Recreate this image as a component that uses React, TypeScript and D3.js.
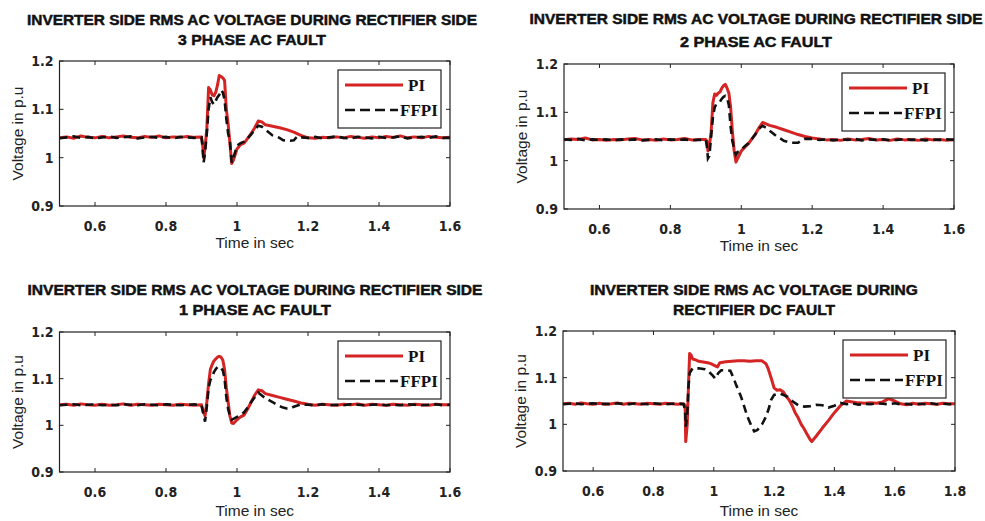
import React from 'react'
import * as d3 from 'd3'

const W = 985
const H = 521

const xTicksShort = [0.6, 0.8, 1, 1.2, 1.4, 1.6]
const xTicksLong = [0.6, 0.8, 1, 1.2, 1.4, 1.6, 1.8]
const yTicks = [0.9, 1, 1.1, 1.2]
const seriesNames = ['PI', 'FFPI']

type Pt = [number, number]

// 3 phase AC fault
const p1Pi: Pt[] = [[0.5,1.041],[0.52,1.043],[0.54,1.040],[0.56,1.045],[0.58,1.042],[0.6,1.041],[0.62,1.044],[0.64,1.041],[0.66,1.043],[0.68,1.045],[0.7,1.042],[0.72,1.041],[0.74,1.044],[0.76,1.042],[0.78,1.045],[0.8,1.041],[0.82,1.043],[0.84,1.042],[0.86,1.044],[0.88,1.042],[0.9,1.043],[0.903,1.03],[0.906,1.0],[0.91,1.02],[0.915,1.06],[0.92,1.145],[0.925,1.14],[0.93,1.13],[0.935,1.128],[0.94,1.135],[0.945,1.15],[0.95,1.17],[0.955,1.168],[0.96,1.165],[0.965,1.16],[0.97,1.10],[0.975,1.07],[0.98,1.03],[0.985,0.988],[0.99,0.995],[1.0,1.018],[1.01,1.027],[1.02,1.03],[1.03,1.04],[1.04,1.05],[1.05,1.062],[1.06,1.076],[1.07,1.074],[1.08,1.068],[1.1,1.065],[1.12,1.062],[1.14,1.058],[1.16,1.053],[1.18,1.046],[1.2,1.041],[1.22,1.040],[1.24,1.042],[1.26,1.041],[1.28,1.043],[1.3,1.041],[1.32,1.044],[1.34,1.042],[1.36,1.040],[1.38,1.043],[1.4,1.041],[1.42,1.044],[1.44,1.042],[1.46,1.045],[1.48,1.041],[1.5,1.043],[1.52,1.041],[1.54,1.044],[1.56,1.042],[1.58,1.041],[1.6,1.042]]
const p1Ff: Pt[] = [[0.5,1.040],[0.52,1.042],[0.54,1.044],[0.56,1.041],[0.58,1.043],[0.6,1.040],[0.62,1.042],[0.64,1.044],[0.66,1.041],[0.68,1.042],[0.7,1.044],[0.72,1.040],[0.74,1.042],[0.76,1.043],[0.78,1.041],[0.8,1.043],[0.82,1.040],[0.84,1.043],[0.86,1.042],[0.88,1.041],[0.9,1.042],[0.903,1.02],[0.906,0.99],[0.91,1.01],[0.915,1.05],[0.92,1.10],[0.925,1.125],[0.93,1.115],[0.935,1.11],[0.94,1.118],[0.945,1.125],[0.95,1.13],[0.955,1.14],[0.96,1.135],[0.965,1.12],[0.97,1.08],[0.975,1.05],[0.98,1.035],[0.985,0.99],[0.99,1.0],[1.0,1.025],[1.01,1.03],[1.02,1.033],[1.03,1.04],[1.04,1.048],[1.05,1.058],[1.06,1.066],[1.07,1.064],[1.08,1.058],[1.09,1.052],[1.1,1.046],[1.12,1.041],[1.13,1.036],[1.15,1.035],[1.16,1.036],[1.17,1.044],[1.18,1.042],[1.2,1.041],[1.22,1.043],[1.24,1.040],[1.26,1.042],[1.28,1.044],[1.3,1.041],[1.32,1.040],[1.34,1.043],[1.36,1.042],[1.38,1.040],[1.4,1.043],[1.42,1.041],[1.44,1.042],[1.46,1.044],[1.48,1.040],[1.5,1.042],[1.52,1.043],[1.54,1.041],[1.56,1.044],[1.58,1.041],[1.6,1.041]]

// 2 phase AC fault
const p2Pi: Pt[] = [[0.5,1.043],[0.52,1.045],[0.54,1.044],[0.56,1.047],[0.58,1.043],[0.6,1.044],[0.62,1.042],[0.64,1.044],[0.66,1.043],[0.68,1.045],[0.7,1.046],[0.72,1.043],[0.74,1.044],[0.76,1.042],[0.78,1.045],[0.8,1.043],[0.82,1.044],[0.84,1.046],[0.86,1.043],[0.88,1.044],[0.9,1.044],[0.903,1.04],[0.906,1.02],[0.91,1.03],[0.915,1.06],[0.92,1.12],[0.925,1.138],[0.93,1.135],[0.935,1.14],[0.94,1.142],[0.945,1.15],[0.95,1.155],[0.955,1.158],[0.96,1.15],[0.965,1.14],[0.97,1.11],[0.975,1.06],[0.98,1.02],[0.985,0.997],[0.99,1.005],[1.0,1.02],[1.01,1.028],[1.02,1.035],[1.03,1.045],[1.04,1.055],[1.05,1.068],[1.06,1.079],[1.07,1.076],[1.08,1.073],[1.1,1.069],[1.12,1.064],[1.14,1.059],[1.16,1.054],[1.18,1.05],[1.2,1.047],[1.22,1.045],[1.24,1.043],[1.26,1.044],[1.28,1.042],[1.3,1.045],[1.32,1.043],[1.34,1.044],[1.36,1.046],[1.38,1.043],[1.4,1.044],[1.42,1.042],[1.44,1.045],[1.46,1.043],[1.48,1.044],[1.5,1.042],[1.52,1.045],[1.54,1.043],[1.56,1.044],[1.58,1.042],[1.6,1.044]]
const p2Ff: Pt[] = [[0.5,1.044],[0.52,1.043],[0.54,1.045],[0.56,1.042],[0.58,1.044],[0.6,1.043],[0.62,1.044],[0.64,1.042],[0.66,1.044],[0.68,1.043],[0.7,1.044],[0.72,1.042],[0.74,1.043],[0.76,1.044],[0.78,1.042],[0.8,1.044],[0.82,1.043],[0.84,1.044],[0.86,1.042],[0.88,1.043],[0.9,1.043],[0.903,1.03],[0.906,1.005],[0.91,1.01],[0.915,1.05],[0.92,1.09],[0.925,1.11],[0.93,1.118],[0.935,1.12],[0.94,1.122],[0.945,1.128],[0.95,1.132],[0.955,1.134],[0.96,1.13],[0.965,1.115],[0.97,1.07],[0.975,1.04],[0.98,1.025],[0.985,1.012],[0.99,1.018],[1.0,1.022],[1.01,1.03],[1.02,1.036],[1.03,1.045],[1.04,1.055],[1.05,1.066],[1.06,1.072],[1.07,1.068],[1.08,1.062],[1.09,1.056],[1.1,1.05],[1.11,1.046],[1.12,1.041],[1.13,1.039],[1.14,1.037],[1.16,1.037],[1.17,1.042],[1.18,1.045],[1.2,1.045],[1.22,1.043],[1.24,1.044],[1.26,1.042],[1.28,1.044],[1.3,1.043],[1.32,1.045],[1.34,1.042],[1.36,1.044],[1.38,1.043],[1.4,1.044],[1.42,1.042],[1.44,1.043],[1.46,1.045],[1.48,1.043],[1.5,1.044],[1.52,1.042],[1.54,1.044],[1.56,1.043],[1.58,1.044],[1.6,1.043]]

// 1 phase AC fault
const p3Pi: Pt[] = [[0.5,1.044],[0.52,1.045],[0.54,1.043],[0.56,1.046],[0.58,1.044],[0.6,1.043],[0.62,1.045],[0.64,1.043],[0.66,1.044],[0.68,1.046],[0.7,1.043],[0.72,1.045],[0.74,1.044],[0.76,1.043],[0.78,1.045],[0.8,1.044],[0.82,1.043],[0.84,1.045],[0.86,1.044],[0.88,1.043],[0.9,1.044],[0.905,1.03],[0.91,1.02],[0.915,1.05],[0.92,1.09],[0.925,1.12],[0.93,1.13],[0.935,1.138],[0.94,1.142],[0.945,1.146],[0.95,1.148],[0.955,1.146],[0.96,1.14],[0.965,1.12],[0.97,1.08],[0.975,1.05],[0.98,1.02],[0.985,1.005],[0.99,1.004],[1.0,1.012],[1.01,1.018],[1.02,1.022],[1.03,1.035],[1.04,1.05],[1.05,1.065],[1.06,1.076],[1.07,1.074],[1.08,1.068],[1.1,1.064],[1.12,1.06],[1.14,1.056],[1.16,1.052],[1.18,1.048],[1.2,1.045],[1.22,1.043],[1.24,1.045],[1.26,1.044],[1.28,1.043],[1.3,1.045],[1.32,1.044],[1.34,1.046],[1.36,1.043],[1.38,1.045],[1.4,1.044],[1.42,1.043],[1.44,1.045],[1.46,1.044],[1.48,1.043],[1.5,1.045],[1.52,1.044],[1.54,1.043],[1.56,1.045],[1.58,1.044],[1.6,1.044]]
const p3Ff: Pt[] = [[0.5,1.043],[0.52,1.044],[0.54,1.045],[0.56,1.043],[0.58,1.044],[0.6,1.045],[0.62,1.043],[0.64,1.044],[0.66,1.043],[0.68,1.045],[0.7,1.044],[0.72,1.043],[0.74,1.045],[0.76,1.044],[0.78,1.043],[0.8,1.045],[0.82,1.044],[0.84,1.043],[0.86,1.044],[0.88,1.045],[0.9,1.043],[0.905,1.025],[0.91,1.008],[0.915,1.04],[0.92,1.08],[0.925,1.097],[0.93,1.105],[0.935,1.114],[0.94,1.12],[0.945,1.125],[0.95,1.126],[0.955,1.122],[0.96,1.118],[0.965,1.10],[0.97,1.06],[0.975,1.035],[0.98,1.02],[0.985,1.012],[0.99,1.014],[1.0,1.018],[1.01,1.022],[1.02,1.028],[1.03,1.038],[1.04,1.05],[1.05,1.06],[1.06,1.07],[1.07,1.064],[1.08,1.058],[1.09,1.054],[1.1,1.05],[1.11,1.045],[1.12,1.041],[1.13,1.038],[1.14,1.036],[1.15,1.036],[1.16,1.04],[1.18,1.045],[1.2,1.044],[1.22,1.043],[1.24,1.045],[1.26,1.043],[1.28,1.044],[1.3,1.043],[1.32,1.045],[1.34,1.044],[1.36,1.043],[1.38,1.044],[1.4,1.045],[1.42,1.043],[1.44,1.044],[1.46,1.043],[1.48,1.045],[1.5,1.044],[1.52,1.043],[1.54,1.044],[1.56,1.045],[1.58,1.043],[1.6,1.044]]

// rectifier DC fault
const p4Pi: Pt[] = [[0.5,1.044],[0.52,1.045],[0.54,1.043],[0.56,1.046],[0.58,1.044],[0.6,1.043],[0.62,1.045],[0.64,1.043],[0.66,1.044],[0.68,1.046],[0.7,1.043],[0.72,1.045],[0.74,1.044],[0.76,1.043],[0.78,1.045],[0.8,1.044],[0.82,1.043],[0.84,1.045],[0.86,1.044],[0.88,1.043],[0.9,1.044],[0.905,1.04],[0.907,0.963],[0.912,1.0],[0.916,1.08],[0.92,1.152],[0.925,1.148],[0.93,1.14],[0.94,1.138],[0.95,1.135],[0.96,1.134],[0.98,1.132],[0.99,1.13],[1.0,1.127],[1.012,1.123],[1.02,1.132],[1.04,1.134],[1.06,1.135],[1.08,1.136],[1.1,1.136],[1.12,1.135],[1.14,1.136],[1.16,1.136],[1.173,1.13],[1.18,1.12],[1.19,1.10],[1.2,1.078],[1.21,1.073],[1.22,1.074],[1.23,1.07],[1.24,1.06],[1.25,1.052],[1.26,1.04],[1.27,1.025],[1.28,1.014],[1.29,1.0],[1.3,0.99],[1.31,0.978],[1.32,0.967],[1.325,0.963],[1.34,0.975],[1.36,0.992],[1.38,1.008],[1.4,1.025],[1.42,1.04],[1.44,1.05],[1.46,1.048],[1.48,1.046],[1.5,1.045],[1.52,1.046],[1.54,1.045],[1.56,1.048],[1.58,1.055],[1.6,1.05],[1.62,1.044],[1.64,1.042],[1.66,1.045],[1.68,1.043],[1.7,1.045],[1.72,1.044],[1.74,1.043],[1.76,1.045],[1.78,1.044],[1.8,1.044]]
const p4Ff: Pt[] = [[0.5,1.043],[0.52,1.044],[0.54,1.045],[0.56,1.043],[0.58,1.044],[0.6,1.045],[0.62,1.043],[0.64,1.044],[0.66,1.043],[0.68,1.045],[0.7,1.044],[0.72,1.043],[0.74,1.045],[0.76,1.044],[0.78,1.043],[0.8,1.045],[0.82,1.044],[0.84,1.043],[0.86,1.044],[0.88,1.045],[0.9,1.043],[0.905,1.03],[0.907,0.995],[0.912,1.02],[0.916,1.08],[0.92,1.11],[0.93,1.12],[0.95,1.12],[0.97,1.118],[0.985,1.112],[0.996,1.105],[1.005,1.098],[1.015,1.11],[1.025,1.116],[1.04,1.116],[1.055,1.115],[1.065,1.1],[1.075,1.083],[1.09,1.06],[1.1,1.04],[1.112,1.016],[1.124,0.998],[1.134,0.985],[1.145,0.988],[1.16,1.0],[1.173,1.016],[1.183,1.035],[1.19,1.052],[1.2,1.063],[1.22,1.066],[1.245,1.059],[1.26,1.05],[1.28,1.041],[1.3,1.038],[1.32,1.039],[1.34,1.042],[1.36,1.041],[1.38,1.036],[1.4,1.04],[1.42,1.046],[1.44,1.043],[1.46,1.045],[1.48,1.042],[1.5,1.044],[1.52,1.043],[1.54,1.045],[1.56,1.044],[1.58,1.043],[1.6,1.045],[1.62,1.043],[1.64,1.044],[1.66,1.042],[1.68,1.044],[1.7,1.043],[1.72,1.045],[1.74,1.043],[1.76,1.044],[1.78,1.043],[1.8,1.044]]

const titles = [
  ['INVERTER SIDE RMS AC VOLTAGE DURING RECTIFIER SIDE', '3 PHASE AC FAULT'],
  ['INVERTER SIDE RMS AC VOLTAGE DURING RECTIFIER SIDE', '2 PHASE AC FAULT'],
  ['INVERTER SIDE RMS AC VOLTAGE DURING RECTIFIER SIDE', '1 PHASE AC FAULT'],
  ['INVERTER SIDE RMS AC VOLTAGE DURING', 'RECTIFIER DC FAULT'],
]

const panels = [
  { title: titles[0], xMax: 1.6, xTicks: xTicksShort, pi: p1Pi, ff: p1Ff, l: 59.5, r: 450, t: 61, b: 206, tx: 252, ty: [25, 45], tw: [450, 148], xl: 248 },
  { title: titles[1], xMax: 1.6, xTicks: xTicksShort, pi: p2Pi, ff: p2Ff, l: 564, r: 954, t: 64, b: 209, tx: 756, ty: [24, 47], tw: [453, 152], xl: 251 },
  { title: titles[2], xMax: 1.6, xTicks: xTicksShort, pi: p3Pi, ff: p3Ff, l: 59.5, r: 450, t: 332, b: 472, tx: 255, ty: [295, 315], tw: [455, 152], xl: 516 },
  { title: titles[3], xMax: 1.8, xTicks: xTicksLong, pi: p4Pi, ff: p4Ff, l: 563, r: 955, t: 331, b: 471, tx: 754, ty: [295, 315], tw: [328, 162], xl: 516 },
]

const RED = '#d42424'
const fmt = d3.format('~g')
const tickFont = 'Liberation Sans Narrow, DejaVu Sans Condensed'

function Panel({ p, i }: { p: typeof panels[number]; i: number }) {
  const x = d3.scaleLinear().domain([0.5, p.xMax]).range([p.l, p.r])
  const y = d3.scaleLinear().domain([0.9, 1.2]).range([p.b, p.t])
  const line = d3.line<Pt>().x(d => x(d[0])).y(d => y(d[1]))
  const tick = 4
  const lgX = p.r - 112
  const lgY = p.t + 9
  return (
    <g>
      <defs>
        <clipPath id={'clip' + i}>
          <rect x={p.l} y={p.t} width={p.r - p.l} height={p.b - p.t} />
        </clipPath>
      </defs>
      {p.title.map((s, k) => (
        <text key={k} x={p.tx} y={p.ty[k]} textAnchor="middle" fontFamily="Liberation Sans, Arial" fontWeight="bold"
          fontSize={14} textLength={p.tw[k]} lengthAdjust="spacingAndGlyphs" fill="#111" stroke="#111" strokeWidth={0.45}>{s}</text>
      ))}
      <g clipPath={`url(#clip${i})`}>
        <path d={line(p.pi) || ''} fill="none" stroke={RED} strokeWidth={3} strokeLinejoin="round" />
        <path d={line(p.ff) || ''} fill="none" stroke="#111" strokeWidth={2.6} strokeDasharray="8,5" />
      </g>
      <rect x={p.l} y={p.t} width={p.r - p.l} height={p.b - p.t} fill="none" stroke="#222" strokeWidth={1.2} />
      {p.xTicks.map(v => (
        <g key={'x' + v}>
          <line x1={x(v)} x2={x(v)} y1={p.b} y2={p.b - tick} stroke="#222" />
          <line x1={x(v)} x2={x(v)} y1={p.t} y2={p.t + tick} stroke="#222" />
          <text x={x(v)} y={p.b + 25} textAnchor="middle" fontFamily={tickFont} fontWeight="bold" fontSize={14} fill="#222">{fmt(v)}</text>
        </g>
      ))}
      {yTicks.map(v => (
        <g key={'y' + v}>
          <line x1={p.l} x2={p.l + tick} y1={y(v)} y2={y(v)} stroke="#222" />
          <line x1={p.r} x2={p.r - tick} y1={y(v)} y2={y(v)} stroke="#222" />
          <text x={p.l - 6} y={y(v) + 5} textAnchor="end" fontFamily={tickFont} fontWeight="bold" fontSize={14} fill="#222">{fmt(v)}</text>
        </g>
      ))}
      <text x={(p.l + p.r) / 2} y={p.xl} textAnchor="middle" fontFamily="Liberation Sans, Arial" fontSize={15.5} fill="#222">Time in sec</text>
      <text transform={`translate(${p.l - 37},${(p.t + p.b) / 2}) rotate(-90)`} textAnchor="middle" fontFamily="Liberation Sans, Arial" fontSize={15.5} fill="#222">Voltage in p.u</text>
      <rect x={lgX} y={lgY} width={103} height={58} fill="#fff" stroke="#222" strokeWidth={1.2} />
      <line x1={lgX + 7} x2={lgX + 65} y1={lgY + 15} y2={lgY + 15} stroke={RED} strokeWidth={3} />
      <line x1={lgX + 7} x2={lgX + 60} y1={lgY + 40} y2={lgY + 40} stroke="#111" strokeWidth={2.6} strokeDasharray="10,5" />
      <text x={lgX + 70} y={lgY + 21} fontFamily="Liberation Serif, Times New Roman" fontWeight="bold" fontSize={17} fill="#111">{seriesNames[0]}</text>
      <text x={lgX + 62} y={lgY + 46} fontFamily="Liberation Serif, Times New Roman" fontWeight="bold" fontSize={17} fill="#111">{seriesNames[1]}</text>
    </g>
  )
}

export default function App() {
  return (
    <svg width={W} height={H} style={{ position: 'absolute', left: 0, top: 0, background: '#fff' }}>
      {panels.map((p, i) => <Panel key={i} p={p} i={i} />)}
    </svg>
  )
}
